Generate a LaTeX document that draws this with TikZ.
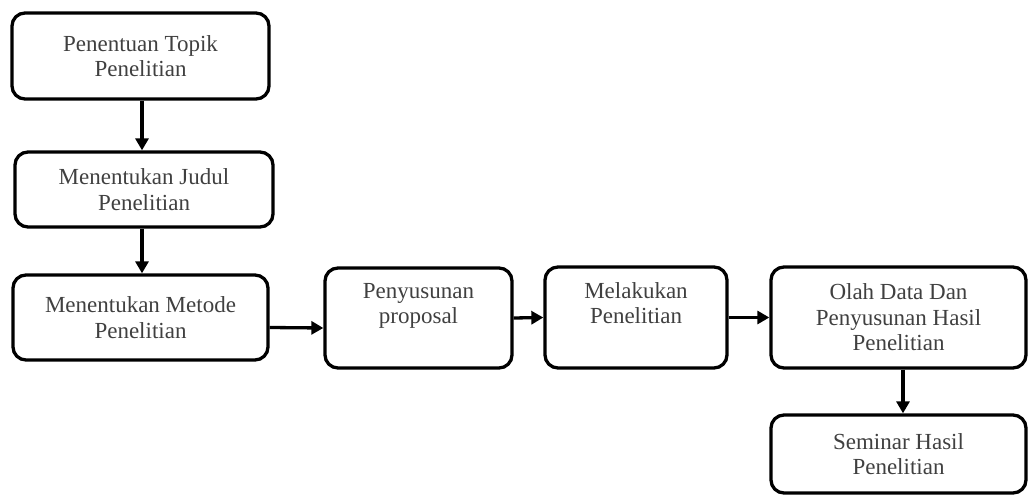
\documentclass[tikz,border=0pt]{standalone}
\usepackage{fontspec}
\setmainfont{Liberation Serif}
\usetikzlibrary{arrows.meta}
\begin{document}
\begin{tikzpicture}[x=1pt,y=-1pt,
  stepbox/.style={draw=black, line width=3.3pt, rounded corners=13pt, align=center,
    text=black!75, font=\fontsize{23}{25.5}\selectfont, inner sep=0pt},
  conn/.style={line width=3.3pt, -{Triangle[length=12pt,width=13pt]}}]
\useasboundingbox (0,0) rectangle (1029,495);
\node[stepbox, minimum width=257pt, minimum height=86pt] (b1) at (140.5,56) {Penentuan Topik\\Penelitian};
\node[stepbox, minimum width=258pt, minimum height=75pt] (b2) at (144,189.5) {Menentukan Judul\\Penelitian};
\node[stepbox, minimum width=255pt, minimum height=85pt] (b3) at (140.5,317.5) {Menentukan Metode\\Penelitian};
\node[stepbox, minimum width=187pt, minimum height=100pt] (b4) at (418.5,318) {Penyusunan\\proposal\\[-4pt]\strut};
\node[stepbox, minimum width=182pt, minimum height=101pt] (b5) at (636,317.5) {Melakukan\\Penelitian\\[-4pt]\strut};
\node[stepbox, minimum width=255pt, minimum height=101pt] (b6) at (898.5,317.5) {Olah Data Dan\\Penyusunan Hasil\\Penelitian};
\node[stepbox, minimum width=255pt, minimum height=78pt] (b7) at (898.5,454) {Seminar Hasil\\Penelitian};
\draw[conn] (b1.south -| 142,0) -- (b2.north -| 142,0);
\draw[conn] (b2.south -| 142,0) -- (b3.north -| 142,0);
\draw[conn] ([yshift=-10pt]b3.east) -- ([yshift=-10pt]b4.west);
\draw[conn] (b4.east) -- (b5.west);
\draw[conn] (b5.east) -- (b6.west);
\draw[conn] (b6.south -| 903,0) -- (b7.north -| 903,0);
\end{tikzpicture}
\end{document}
